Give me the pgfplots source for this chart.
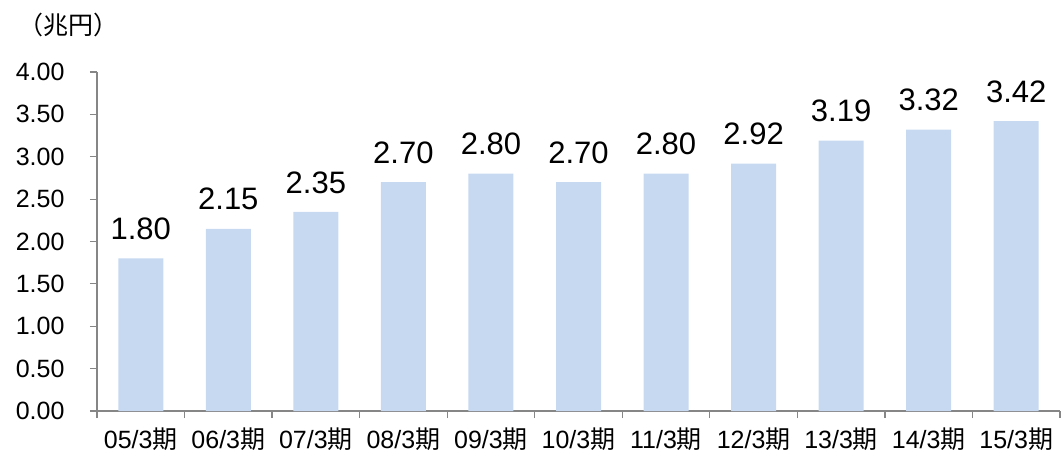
\documentclass[border=0pt]{standalone}
\usepackage{pgfplots}
\pgfplotsset{compat=1.18}
\usepackage{fontspec}
\setmainfont{Liberation Sans}
\newfontfamily\cjk{Noto Sans CJK JP}
\definecolor{barc}{HTML}{C6D9F1}
\definecolor{axc}{HTML}{868686}
\begin{document}
\begin{tikzpicture}[x=1pt,y=1pt]
\useasboundingbox (-97,-47) rectangle (967,411);
\begin{axis}[at={(0,0)}, anchor=south west, scale only axis,
  width=963pt, height=339pt,
  xmin=-0.5, xmax=10.5, ymin=0, ymax=4,
  axis x line*=bottom, axis y line*=left,
  axis line style={axc, line width=1.2pt},
  tick align=outside,
  xtick={0,...,10},
  xticklabels={05/3{\cjk 期},06/3{\cjk 期},07/3{\cjk 期},08/3{\cjk 期},09/3{\cjk 期},10/3{\cjk 期},11/3{\cjk 期},12/3{\cjk 期},13/3{\cjk 期},14/3{\cjk 期},15/3{\cjk 期}},
  xticklabel style={yshift=-6pt},
  major x tick style={draw=none},
  minor xtick={-0.5,0.5,...,10.5},
  minor x tick style={draw=axc, line width=1.2pt},
  minor tick length=7pt,
  major tick length=7pt,
  ytick={0,0.5,1,1.5,2,2.5,3,3.5,4},
  y tick style={draw=axc, line width=1.2pt},
  tick label style={font=\fontsize{25}{30}\selectfont},
  /pgf/number format/assume math mode=true,
  yticklabel style={xshift=-22pt, /pgf/number format/fixed, /pgf/number format/fixed zerofill, /pgf/number format/precision=2},
  ybar, bar width=45pt,
  nodes near coords,
  nodes near coords style={font=\fontsize{31}{36}\selectfont, /pgf/number format/fixed, /pgf/number format/fixed zerofill, /pgf/number format/precision=2, anchor=south, yshift=15pt},
  clip=false,
]
\addplot[fill=barc, draw=none] coordinates {(0,1.80) (1,2.15) (2,2.35) (3,2.70) (4,2.80) (5,2.70) (6,2.80) (7,2.92) (8,3.19) (9,3.32) (10,3.42)};
\end{axis}
\node[font=\fontsize{25}{30}\selectfont\cjk] at (-28,386) {（兆円）};
\end{tikzpicture}
\end{document}
